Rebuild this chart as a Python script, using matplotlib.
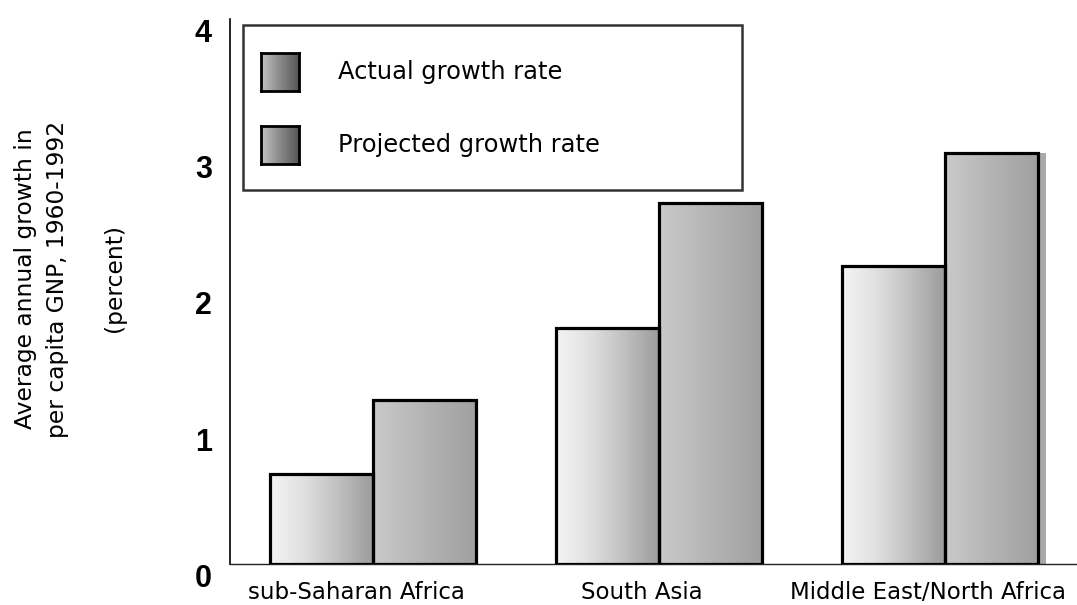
import matplotlib
matplotlib.use("Agg")
import matplotlib.pyplot as plt
import matplotlib.transforms as mtransforms
from matplotlib.colors import LinearSegmentedColormap
from matplotlib.patches import Rectangle
import numpy as np

regions = ["sub-Saharan Africa", "South Asia", "Middle East/North Africa"]
actual = [0.66, 1.73, 2.19]
projected = [1.20, 2.65, 3.02]
series_names = ["Actual growth rate", "Projected growth rate"]
yticks = [0, 1, 2, 3, 4]

fig = plt.figure(figsize=(10.77, 6.05), dpi=100)
ax = fig.add_axes([0.2136, 0.0678, 0.7864, 0.9008])

cmap_actual = LinearSegmentedColormap.from_list("act", ["#f4f4f4", "#e0e0e0", "#c0c0c0", "#9c9c9c"])
cmap_proj = LinearSegmentedColormap.from_list("proj", ["#cacaca", "#b4b4b4", "#a0a0a0"])
grad = np.linspace(0, 1, 256).reshape(1, -1)

x = np.arange(len(regions))
w = 0.36
# last projected bar is a bit narrower in the original
w_proj = [w, w, w * 0.9]


def gradient_bars(left, vals, widths, cmap):
    bars = ax.bar(left, vals, width=widths, align="edge", facecolor="none",
                  edgecolor="black", linewidth=2.3, zorder=3)
    for b in bars:
        x0, y0 = b.get_x(), b.get_y()
        im = ax.imshow(grad, cmap=cmap, aspect="auto", zorder=2,
                       extent=(x0, x0 + b.get_width(), y0, y0 + b.get_height()))
        im.set_clip_path(b)
    return bars


# drop shadow behind the last projected bar
last = len(regions) - 1
ax.bar(x[last] + 0.028, projected[last], width=w_proj[last], align="edge",
       color="#a9a9a9", linewidth=0, zorder=1)

gradient_bars(x - w, actual, w, cmap_actual)
gradient_bars(x, projected, w_proj, cmap_proj)

ax.set_xlim(-0.5, 2.462)
ax.set_ylim(0, 4)

for s in ["top", "right"]:
    ax.spines[s].set_visible(False)
ax.spines["left"].set_linewidth(1.2)
ax.spines["bottom"].set_linewidth(1.0)
ax.spines["bottom"].set_color("#222222")

ax.set_yticks(yticks)
ax.set_yticklabels([str(t) for t in yticks], fontsize=22, fontweight="bold",
                   family="Liberation Sans")
for lab in ax.get_yticklabels():
    lab.set_va("top")
ax.tick_params(axis="y", length=0, pad=13)

ax.set_xticks(x)
ax.set_xticklabels(regions, fontsize=16.5, family="DejaVu Sans")
ax.tick_params(axis="x", length=0, pad=12)
shift = mtransforms.ScaledTranslation(-17 / 100, 0, fig.dpi_scale_trans)
for lab in ax.get_xticklabels():
    lab.set_transform(lab.get_transform() + shift)

# y axis title
fig.text(26 / 1077, 1 - 279 / 605, "Average annual growth in", rotation=90,
         ha="center", va="center", fontsize=16.8, family="DejaVu Sans")
fig.text(58 / 1077, 1 - 279 / 605, "per capita GNP, 1960-1992", rotation=90,
         ha="center", va="center", fontsize=16.8, family="DejaVu Sans")
fig.text(114 / 1077, 1 - 278 / 605, "(percent)", rotation=90,
         ha="center", va="center", fontsize=16.8, family="DejaVu Sans")

# legend box drawn by hand in figure coordinates
fig.patches.append(Rectangle((243 / 1077, 1 - 190 / 605), 499 / 1077, 165 / 605,
                             transform=fig.transFigure, facecolor="white",
                             edgecolor="#333333", linewidth=1.8, zorder=5))
sw_cmap = LinearSegmentedColormap.from_list("sw", ["#c4c4c4", "#8a8a8a", "#555555"])
for i, name in enumerate(series_names):
    top = 53 + i * 73
    sax = fig.add_axes([261 / 1077, 1 - (top + 38) / 605, 38 / 1077, 38 / 605], zorder=6)
    sax.imshow(grad, cmap=sw_cmap, aspect="auto")
    sax.set_xticks([])
    sax.set_yticks([])
    for sp in sax.spines.values():
        sp.set_linewidth(2)
        sp.set_color("black")
    fig.text(338 / 1077, 1 - (top + 19) / 605, name, ha="left", va="center",
             fontsize=17.4, family="DejaVu Sans", zorder=7)

fig.savefig("out.png", dpi=100)
